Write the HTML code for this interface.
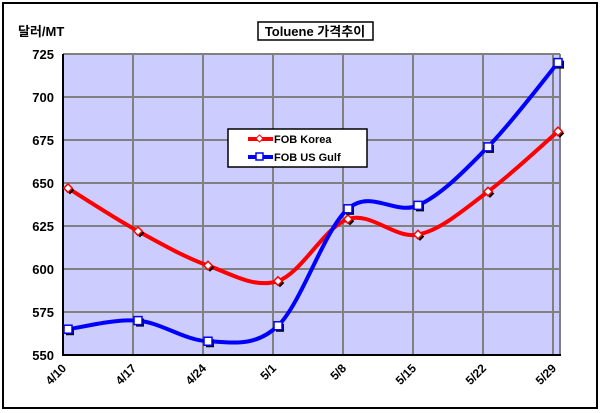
<!DOCTYPE html>
<html><head><meta charset="utf-8"><style>
html,body{margin:0;padding:0;background:#fff}
svg{display:block}
text{font-family:"Liberation Sans","Noto Sans CJK KR",sans-serif;font-weight:bold;fill:#000}
</style></head><body>
<svg id="s" width="600" height="413" xmlns="http://www.w3.org/2000/svg">
<rect x="3" y="3" width="594" height="405" fill="#fff" stroke="#000" stroke-width="2"/>
<text x="18" y="36" font-size="13">달러/MT</text>
<rect x="258" y="22" width="115" height="18" fill="#fff" stroke="#000" stroke-width="1.5"/>
<text x="315" y="36" font-size="13" text-anchor="middle">Toluene 가격추이</text>
<rect x="63" y="54" width="497" height="301" fill="#ccccff"/>
<g id="grid"></g>
<g id="series"></g>
<rect x="228" y="129" width="139" height="38" fill="#fff" stroke="#000" stroke-width="1.5"/>
<line x1="248" y1="139" x2="273" y2="139" stroke="#ff0000" stroke-width="4"/>
<rect x="257" y="136" width="5" height="5" fill="#fff" stroke="#ff0000" transform="rotate(45 259.5 138.5)"/>
<text x="274" y="143" font-size="11">FOB Korea</text>
<line x1="248" y1="157" x2="273" y2="157" stroke="#0000ff" stroke-width="4"/>
<rect x="256" y="153" width="7" height="7" fill="#fff" stroke="#0000ff" stroke-width="1.5"/>
<text x="274" y="161" font-size="11">FOB US Gulf</text>
</svg>
<script>
const NS="http://www.w3.org/2000/svg";
const g=document.getElementById('grid'),se=document.getElementById('series');
function el(p,t,a){const e=document.createElementNS(NS,t);for(const k in a)e.setAttribute(k,a[k]);p.appendChild(e);return e;}
const X=i=>63+70*i, Y=v=>355-(v-550)*(301/175);
for(let v=575;v<=725;v+=25){el(g,'line',{x1:63,x2:560,y1:Y(v),y2:Y(v),stroke:'#808080','stroke-width':2});}
for(let i=1;i<8;i++){el(g,'line',{x1:X(i),x2:X(i),y1:54,y2:355,stroke:'#808080','stroke-width':2});}
el(g,'line',{x1:560,x2:560,y1:54,y2:355,stroke:'#808080','stroke-width':2});
el(g,'line',{x1:63,x2:63,y1:54,y2:356,stroke:'#000','stroke-width':2});
el(g,'line',{x1:62,x2:561,y1:355,y2:355,stroke:'#000','stroke-width':2});
for(let v=550;v<=725;v+=25){const t=el(g,'text',{x:54,y:Y(v)+5,'font-size':13,'text-anchor':'end'});t.textContent=v;}
const labs=['4/10','4/17','4/24','5/1','5/8','5/15','5/22','5/29'];
labs.forEach((l,i)=>{const t=el(g,'text',{x:X(i)+4,y:369,'font-size':12,'text-anchor':'end',transform:`rotate(-45 ${X(i)+4} 369)`});t.textContent=l;});
function path(d){const p=d.map((v,i)=>[X(i)+5,Y(v)]);let s=`M${p[0]}`;for(let i=0;i<p.length-1;i++){const a=p[i-1]||p[i],b=p[i],c=p[i+1],e=p[i+2]||c;const c1=[b[0]+(c[0]-a[0])/6,b[1]+(c[1]-a[1])/6],c2=[c[0]-(e[0]-b[0])/6,c[1]-(e[1]-b[1])/6];s+=` C${c1} ${c2} ${c}`;}return [s,p];}
const kor=[647,622,602,593,629,620,645,680],gulf=[565,570,558,567,635,637,671,720];
let [sk,pk]=path(kor);el(se,'path',{d:sk,fill:'none',stroke:'#ff0000','stroke-width':4});
let [sg,pg]=path(gulf);el(se,'path',{d:sg,fill:'none',stroke:'#0000ff','stroke-width':4});
pk.forEach(p=>{el(se,'rect',{x:p[0]-1,y:p[1]-1,width:6,height:6,fill:'#000',transform:`rotate(45 ${p[0]+2} ${p[1]+2})`});el(se,'rect',{x:p[0]-3,y:p[1]-3,width:6,height:6,fill:'#fff',stroke:'#ff0000','stroke-width':1.5,transform:`rotate(45 ${p[0]} ${p[1]})`});});
pg.forEach(p=>{el(se,'rect',{x:p[0]-2,y:p[1]-2,width:8,height:8,fill:'#000'});el(se,'rect',{x:p[0]-4,y:p[1]-4,width:8,height:8,fill:'#fff',stroke:'#0000ff','stroke-width':1.5});});
</script>
</body></html>
